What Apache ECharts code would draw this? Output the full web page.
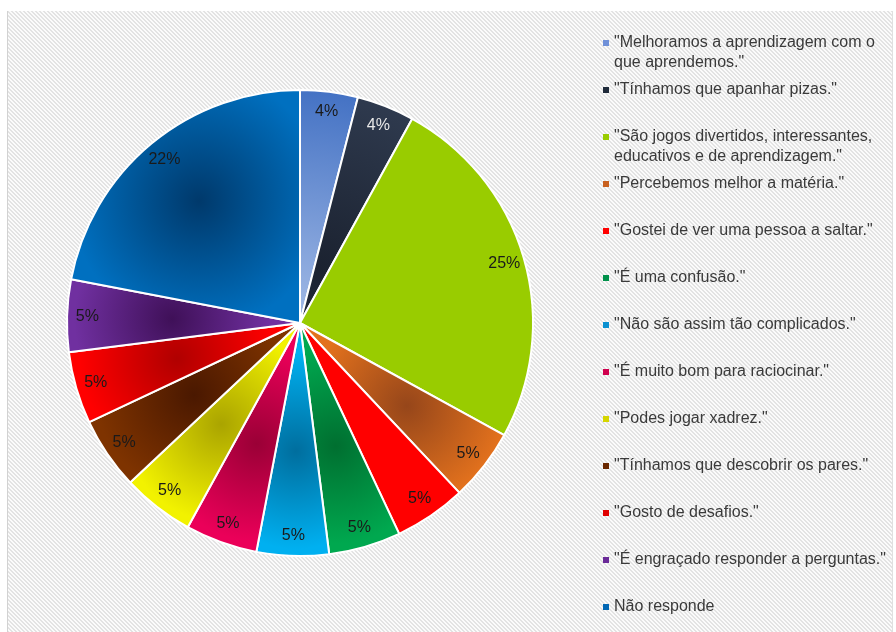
<!DOCTYPE html>
<html>
<head>
<meta charset="utf-8">
<script src="https://cdn.jsdelivr.net/npm/echarts@6/dist/echarts.min.js"></script>
<style>
  html, body { margin: 0; padding: 0; background: #ffffff; }
  #chart { width: 896px; height: 632px; }
</style>
</head>
<body>
<div id="chart"></div>
<script>
// Answers to the question about the games (share of pupils, %)
const categories = [
  '"Melhoramos a aprendizagem com o que aprendemos."',
  '"Tínhamos que apanhar pizas."',
  '"São jogos divertidos, interessantes, educativos e de aprendizagem."',
  '"Percebemos melhor a matéria."',
  '"Gostei de ver uma pessoa a saltar."',
  '"É uma confusão."',
  '"Não são assim tão complicados."',
  '"É muito bom para raciocinar."',
  '"Podes jogar xadrez."',
  '"Tínhamos que descobrir os pares."',
  '"Gosto de desafios."',
  '"É engraçado responder a perguntas."',
  'Não responde'
];
const shares = [4, 4, 25, 5, 5, 5, 5, 5, 5, 5, 5, 5, 22];

// Slice palette: colour at the rim and colour at the shaded spot
const edgeColors = ['#4472c4', '#313d52', '#99cc00', '#e2711d', '#ff0000', '#00a84f', '#00b0f0',
                    '#eb0059', '#f2f200', '#7e3300', '#ff0000', '#7030a0', '#0070c0'];
const coreColors = ['#a3bbe6', '#1b2230', '#99cc00', '#96461a', '#ff0000', '#006f30', '#006e9e',
                    '#9a0036', '#aaa400', '#4a1800', '#b00000', '#3f1058', '#00396b'];
// where the shaded spot sits (fraction of the radius) and how far it spreads
const spotDist   = [0.0, 0.25, 0.5, 0.58, 0.55, 0.55, 0.55, 0.55, 0.55, 0.55, 0.55, 0.55, 0.68];
const spotSpread = [1.0, 0.85, 0.4, 0.42, 0.4, 0.42, 0.42, 0.42, 0.42, 0.42, 0.42, 0.42, 0.55];
const swatchColors = ['#6f90d8', '#1f2a3a', '#99cc00', '#c8601e', '#ff0000', '#00914a', '#0a90d0',
                      '#d0004e', '#d6d600', '#6a2800', '#e00000', '#6a2a98', '#0066b3'];

const FONT = '"Liberation Sans", Arial, sans-serif';
const CX = 300, CY = 323, R = 233;

// word-wrap a legend entry to the legend column width
const measureCtx = document.createElement('canvas').getContext('2d');
measureCtx.font = '16px "Liberation Sans"';
function wrap(text, maxW) {
  const words = text.split(' ');
  const lines = [];
  let cur = '';
  words.forEach(w => {
    const trial = cur ? cur + ' ' + w : w;
    if (cur && measureCtx.measureText(trial).width > maxW) { lines.push(cur); cur = w; }
    else cur = trial;
  });
  if (cur) lines.push(cur);
  return lines;
}

// shaded fill for each slice, centred on a point along the slice bisector
const total = shares.reduce((a, b) => a + b, 0);
let acc = 0;
const fills = shares.map((v, i) => {
  const mid = (acc + v / 2) / total * Math.PI * 2;
  acc += v;
  const k = spotDist[i];
  return {
    type: 'radial', global: true,
    x: CX + k * R * Math.sin(mid),
    y: CY - k * R * Math.cos(mid),
    r: spotSpread[i] * R,
    colorStops: [{ offset: 0, color: coreColors[i] }, { offset: 1, color: edgeColors[i] }]
  };
});

// striped chart-area background
const tile = document.createElement('canvas');
tile.width = 4; tile.height = 4;
const tctx = tile.getContext('2d');
tctx.fillStyle = '#fbfbfb';
tctx.fillRect(0, 0, 4, 4);
tctx.fillStyle = '#e3e3e3';
for (let y = 0; y < 4; y++) {
  for (let x = 0; x < 4; x++) {
    const d = ((x - y) % 4 + 4) % 4;
    if (d === 0 || d === 1) tctx.fillRect(x, y, 1, 1);
  }
}

// one legend block per entry, first lines evenly spaced down the right column;
// wrapped entries get blank lines on top so the swatch stays level with line one
const legendTop = 43, legendStep = 47, lineH = 20;
const legends = categories.map((name, i) => {
  const lines = wrap(name, 276);
  const pad = lines.length - 1;
  const shown = new Array(pad).fill('').concat(lines).join('\n');
  return {
    orient: 'vertical',
    left: 603,
    top: legendTop + i * legendStep - 10 - pad * lineH,
    padding: 0,
    itemWidth: 6,
    itemHeight: 6,
    icon: 'rect',
    selectedMode: false,
    itemStyle: { borderWidth: 0 },
    data: [{ name: name, itemStyle: { color: swatchColors[i], borderWidth: 0 } }],
    formatter: () => shown,
    textStyle: { fontFamily: FONT, fontSize: 16, lineHeight: lineH, color: '#3a3a3a' }
  };
});

const chart = echarts.init(document.getElementById('chart'), null, { renderer: 'canvas' });
chart.setOption({
  animation: false,
  backgroundColor: '#ffffff',
  graphic: [
    {
      type: 'rect', z: -10, silent: true,
      shape: { x: 7, y: 11, width: 886, height: 630 },
      style: { fill: { image: tile, repeat: 'repeat' } }
    },
    { type: 'line', z: -9, silent: true, shape: { x1: 7.5, y1: 11, x2: 7.5, y2: 632 }, style: { stroke: '#d2d2d2', lineWidth: 1 } },
    { type: 'line', z: -9, silent: true, shape: { x1: 892.5, y1: 11, x2: 892.5, y2: 632 }, style: { stroke: '#e0e0e0', lineWidth: 1 } }
  ],
  legend: legends,
  series: [
    {
      type: 'pie',
      center: [CX, CY],
      radius: [0, R],
      startAngle: 90,
      clockwise: true,
      avoidLabelOverlap: false,
      silent: true,
      label: { show: false },
      labelLine: { show: false },
      emphasis: { disabled: true },
      itemStyle: { borderColor: '#ffffff', borderWidth: 2 },
      data: categories.map((name, i) => ({
        name: name, value: shares[i], itemStyle: { color: fills[i] }
      }))
    },
    {
      // ring carrying the percentage labels near the rim
      type: 'pie',
      center: [CX, CY],
      radius: [R * 0.8, R],
      startAngle: 90,
      clockwise: true,
      avoidLabelOverlap: false,
      silent: true,
      z: 5,
      emphasis: { disabled: true },
      itemStyle: { color: 'rgba(0,0,0,0)', borderWidth: 0 },
      labelLine: { show: false },
      label: {
        show: true, position: 'inside',
        formatter: p => p.value + '%',
        fontFamily: FONT, fontSize: 16, color: '#1a1a1a'
      },
      data: categories.map((name, i) => ({
        name: name, value: shares[i],
        label: i === 1 ? { color: '#e8e8e8' } : undefined
      }))
    }
  ]
});
</script>
</body>
</html>
